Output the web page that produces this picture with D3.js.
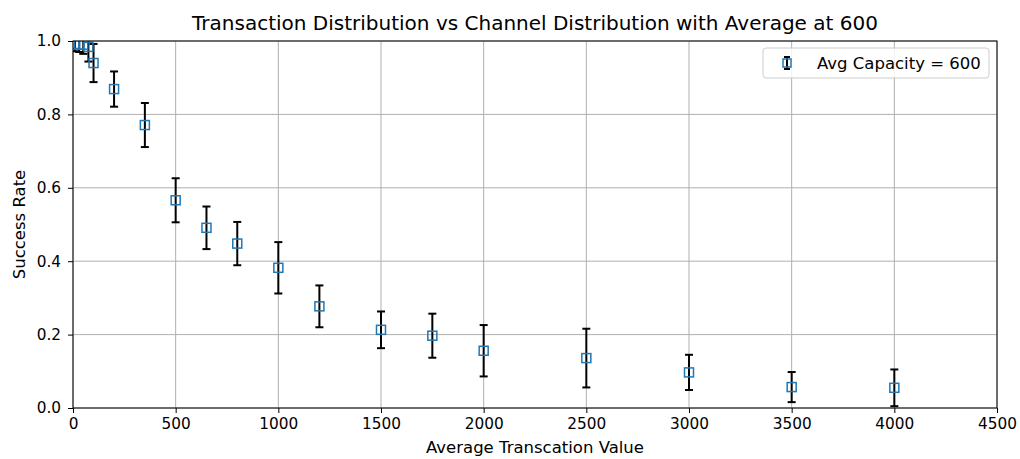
<!DOCTYPE html>
<html>
<head>
<meta charset="utf-8">
<script src="https://cdn.jsdelivr.net/npm/d3@7"></script>
<style>
  body { margin: 0; background: #fff; }
  text { font-family: "DejaVu Sans", sans-serif; }
</style>
</head>
<body>
<div id="chart"></div>
<script>
// Values
var txValues = [10, 30, 50, 75, 100, 200, 350, 500, 650, 800, 1000, 1200, 1500, 1750, 2000, 2500, 3000, 3500, 4000];
var successRate = [0.992, 0.99, 0.99, 0.984, 0.94, 0.869, 0.771, 0.566, 0.491, 0.448, 0.382, 0.277, 0.213, 0.197, 0.156, 0.136, 0.097, 0.057, 0.055];
var errors = [0.02, 0.02, 0.025, 0.04, 0.052, 0.048, 0.06, 0.06, 0.058, 0.059, 0.07, 0.057, 0.05, 0.06, 0.07, 0.08, 0.048, 0.041, 0.05];
var xTicks = [0, 500, 1000, 1500, 2000, 2500, 3000, 3500, 4000, 4500];
var yTicks = [0, 0.2, 0.4, 0.6, 0.8, 1.0];
var seriesLabel = "Avg Capacity = 600";

var data = txValues.map(function(v, i) {
    return { x: v, y: successRate[i], e: errors[i] };
});

var width = 1020, height = 459;
var margin = { top: 41, right: 23, bottom: 51, left: 73 };
var innerW = width - margin.left - margin.right;
var innerH = height - margin.top - margin.bottom;

var svg = d3.select("#chart").append("svg")
    .attr("width", width)
    .attr("height", height);

svg.append("defs").append("clipPath").attr("id", "clip")
    .append("rect").attr("width", innerW).attr("height", innerH);

var g = svg.append("g")
    .attr("transform", `translate(${margin.left},${margin.top})`);

var x = d3.scaleLinear().domain([0, 4500]).range([0, innerW]);
var y = d3.scaleLinear().domain([0, 1]).range([innerH, 0]);

// Grid
g.append("g").selectAll("line").data(xTicks).enter().append("line")
    .attr("x1", d => x(d)).attr("x2", d => x(d))
    .attr("y1", 0).attr("y2", innerH)
    .attr("stroke", "#b0b0b0").attr("stroke-width", 1);
g.append("g").selectAll("line").data(yTicks).enter().append("line")
    .attr("x1", 0).attr("x2", innerW)
    .attr("y1", d => y(d)).attr("y2", d => y(d))
    .attr("stroke", "#b0b0b0").attr("stroke-width", 1);

// Axes
var xAxis = g.append("g")
    .attr("transform", `translate(0,${innerH})`)
    .call(d3.axisBottom(x).tickValues(xTicks).tickSize(5).tickPadding(5).tickFormat(d3.format("d")));
var yAxis = g.append("g")
    .call(d3.axisLeft(y).tickValues(yTicks).tickSize(5).tickPadding(7).tickFormat(d3.format(".1f")));
[xAxis, yAxis].forEach(function(a) {
    a.select(".domain").remove();
    a.selectAll("text").attr("font-size", 15.3).attr("fill", "#000")
        .style("font-family", "DejaVu Sans, sans-serif");
    a.selectAll("line").attr("stroke", "#000");
});

// Error bars and markers
var pts = g.append("g").attr("clip-path", "url(#clip)");
var cap = 4;
pts.selectAll(".err").data(data).enter().append("line")
    .attr("x1", d => x(d.x)).attr("x2", d => x(d.x))
    .attr("y1", d => y(d.y - d.e)).attr("y2", d => y(d.y + d.e))
    .attr("stroke", "#000").attr("stroke-width", 2);
pts.selectAll(".capTop").data(data).enter().append("line")
    .attr("x1", d => x(d.x) - cap).attr("x2", d => x(d.x) + cap)
    .attr("y1", d => y(d.y + d.e)).attr("y2", d => y(d.y + d.e))
    .attr("stroke", "#000").attr("stroke-width", 2);
pts.selectAll(".capBot").data(data).enter().append("line")
    .attr("x1", d => x(d.x) - cap).attr("x2", d => x(d.x) + cap)
    .attr("y1", d => y(d.y - d.e)).attr("y2", d => y(d.y - d.e))
    .attr("stroke", "#000").attr("stroke-width", 2);
var ms = 9;
pts.selectAll(".mk").data(data).enter().append("rect")
    .attr("x", d => x(d.x) - ms / 2).attr("y", d => y(d.y) - ms / 2)
    .attr("width", ms).attr("height", ms)
    .attr("fill", "none").attr("stroke", "#1f77b4").attr("stroke-width", 1.5);

// Frame
g.append("rect").attr("width", innerW).attr("height", innerH)
    .attr("fill", "none").attr("stroke", "#000").attr("stroke-width", 1);

// Title and labels
svg.append("text").attr("x", margin.left + innerW / 2).attr("y", 30)
    .attr("text-anchor", "middle").attr("font-size", 20)
    .text("Transaction Distribution vs Channel Distribution with Average at 600");
svg.append("text").attr("x", margin.left + innerW / 2).attr("y", 453)
    .attr("text-anchor", "middle").attr("font-size", 16.5)
    .text("Average Transcation Value");
svg.append("text")
    .attr("transform", `translate(25,${margin.top + innerH / 2}) rotate(-90)`)
    .attr("text-anchor", "middle").attr("font-size", 16.5)
    .text("Success Rate");

// Legend
var lg = g.append("g").attr("transform", `translate(690,7)`);
lg.append("rect").attr("width", 226).attr("height", 30).attr("rx", 3)
    .attr("fill", "#fff").attr("fill-opacity", 0.8)
    .attr("stroke", "#cccccc").attr("stroke-width", 1);
var lx = 24, ly = 15;
lg.append("line").attr("x1", lx).attr("x2", lx).attr("y1", ly - 6).attr("y2", ly + 6)
    .attr("stroke", "#000").attr("stroke-width", 2);
lg.append("line").attr("x1", lx - 3).attr("x2", lx + 3).attr("y1", ly - 6).attr("y2", ly - 6)
    .attr("stroke", "#000").attr("stroke-width", 2);
lg.append("line").attr("x1", lx - 3).attr("x2", lx + 3).attr("y1", ly + 6).attr("y2", ly + 6)
    .attr("stroke", "#000").attr("stroke-width", 2);
lg.append("rect").attr("x", lx - 4).attr("y", ly - 4).attr("width", 8).attr("height", 8)
    .attr("fill", "none").attr("stroke", "#1f77b4").attr("stroke-width", 1.5);
lg.append("text").attr("x", 54).attr("y", ly + 6).attr("font-size", 16.5)
    .text(seriesLabel);
</script>
</body>
</html>
